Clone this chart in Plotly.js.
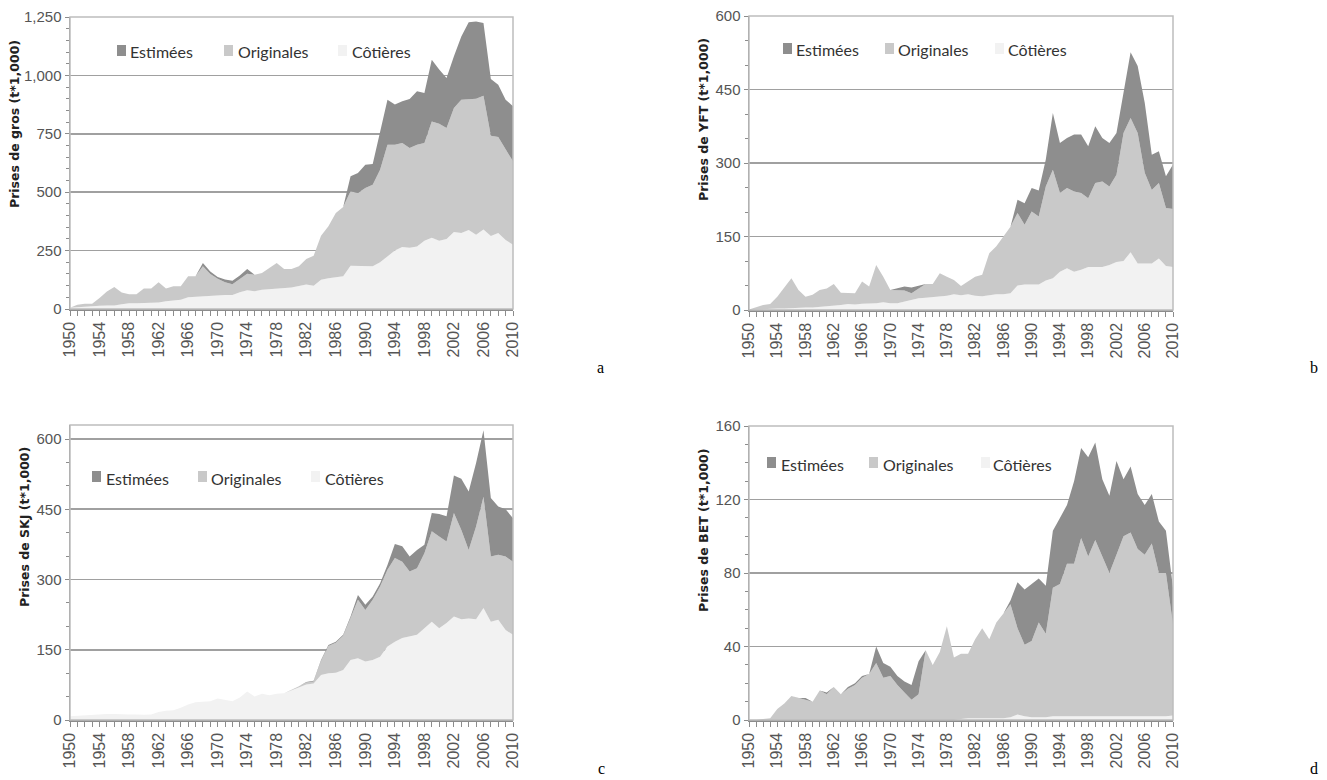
<!DOCTYPE html>
<html><head><meta charset="utf-8">
<script src="https://cdn.plot.ly/plotly-3.0.1.min.js"></script>
<style>html,body{margin:0;padding:0;background:#fff;}#chart{width:1327px;height:780px;}</style>
</head><body><div id="chart"></div>
<script>
const years = [1950,1951,1952,1953,1954,1955,1956,1957,1958,1959,
1960,1961,1962,1963,1964,1965,1966,1967,1968,1969,
1970,1971,1972,1973,1974,1975,1976,1977,1978,1979,
1980,1981,1982,1983,1984,1985,1986,1987,1988,1989,
1990,1991,1992,1993,1994,1995,1996,1997,1998,1999,
2000,2001,2002,2003,2004,2005,2006,2007,2008,2009,2010];

const seriesNames = ["Estimées","Originales","Côtières"];

// Panel a : gros (t*1,000)
const cotieresA = [5,8,10,12,14,15,15,20,25,25, 25,27,28,33,37,40,50,52,57,58, 60,60,60,72,80,76,82,84,88,90,
 92,98,105,100,125,132,135,140,185,185, 185,183,200,225,250,265,262,268,292,305, 292,300,330,325,338,318,340,312,325,295,275];
const originalesA = [0,10,13,11,33,60,79,51,38,38, 63,61,86,55,60,57,90,88,126,92, 69,54,46,57,71,71,72,92,109,81,
 79,85,109,128,189,222,276,297,319,312, 333,349,396,478,453,446,427,435,419,498, 501,475,530,571,561,582,573,430,411,387,357];
const estimeesA = [0,0,0,0,0,0,0,0,0,0, 0,0,0,0,0,0,0,0,14,11, 8,12,15,14,20,0,0,0,0,0,
 0,0,0,0,0,0,0,0,64,85, 100,89,157,193,172,178,210,229,214,264, 232,214,222,271,328,331,311,243,224,214,236];

// Panel b : YFT
const cotieresB = [0,1,2,3,3,3,4,4,5,5, 6,8,9,10,12,11,13,13,14,16, 14,14,17,20,24,25,26,28,29,32,
 30,32,29,28,30,32,32,34,50,52, 52,52,60,65,78,85,78,82,88,88, 88,92,98,100,118,95,95,95,105,90,88];
const originalesB = [1,4,8,9,24,43,61,37,22,26, 35,36,44,25,23,23,45,35,78,52, 27,27,23,14,20,28,27,47,39,29,
 19,26,39,44,86,98,118,136,148,122, 149,139,192,221,161,164,164,157,140,171, 174,160,178,261,274,266,185,150,154,118,118];
const estimeesB = [0,0,0,0,0,0,0,0,0,0, 0,0,0,0,0,0,0,0,0,0, 0,3,8,12,5,0,0,0,0,0,
 0,0,0,0,0,0,0,0,27,44, 48,53,55,116,102,102,116,119,106,116, 89,89,85,82,134,137,143,72,65,65,91];

// Panel c : SKJ
const cotieresC = [8,9,10,11,13,13,13,12,12,12, 11,12,17,20,21,26,33,38,39,40, 46,43,40,48,61,50,56,53,56,57,
 63,70,76,78,96,100,101,107,128,132, 125,128,135,157,167,175,178,182,196,210, 196,207,221,215,217,215,239,210,214,192,182];
const originalesC = [0,0,0,0,0,0,0,0,0,0, 0,0,0,0,0,0,0,0,0,0, 0,0,0,0,0,0,0,0,0,0,
 1,2,4,4,30,58,64,73,90,125, 110,129,150,164,179,163,139,142,160,193, 196,174,221,191,146,198,238,139,139,157,156];
const estimeesC = [0,0,0,0,0,0,0,0,0,0, 0,0,0,0,0,0,0,0,0,0, 0,0,0,0,0,0,0,0,0,0,
 0,0,1,2,2,2,2,2,3,10, 11,7,7,10,30,33,32,39,18,39, 48,54,80,109,125,136,142,125,103,101,93];

// Panel d : BET
const cotieresD = [0,0,0,0,0,0,0,0,0,0, 0,0,0,0,0,0,0,0,0,0, 0,0,0,0,0,0,0,0,0,0,
 0.5,1,1,1,1,1,1,1.5,3,2, 1.5,1.5,1.5,2,2,2,2,2,2,2, 2,2,2,2,2,2,2,2,2,2,2.5];
const originalesD = [0,0,0.5,1,6,9,13,12,11,10, 16,14,18,14,17,19,23,25,31,23, 24,19,15,11,14,38,30,37,51,34,
 35.5,35,43,49,43,52,57,61.5,47,39, 41.5,51.5,45.5,70,72,83,83,97,87,96, 87,78,88,98,100,91,88,94,78,78,49.5];
const estimeesD = [0,0,0,0,0,0,0,0,1,0, 0,1,0,0,1,1,1,0,9,8, 5,5,6,8,18,0,0,0,0,0,
 0,0,0,0,0,0,0,2,25,30, 31,24,26,31,36,32,45,49,54,53, 42,42,51,31,36,30,27,27,28,23,20];

const yTitles = ["Prises de gros (t*1,000)","Prises de YFT (t*1,000)","Prises de SKJ (t*1,000)","Prises de BET (t*1,000)"];
const panelLetters = ["a","b","c","d"];
const yRanges = [[0,1250],[0,600],[0,630],[0,160]];
const yDticks = [250,150,150,40];
const yMinor = [50,50,50,10];

const colors = {"Estimées":"#8e8e8e","Originales":"#c9c9c9","Côtières":"#f2f2f2"};

const W = 1327, H = 780;
const px = x => x / W;
const py = y => 1 - y / H;

// plot rectangles in pixels [left, right, top, bottom]
const boxes = [[70,513,17,309],[749,1173,16,310],[70,513,425,720],[749,1173,426,720]];

const panels = [
  [cotieresA, originalesA, estimeesA],
  [cotieresB, originalesB, estimeesB],
  [cotieresC, originalesC, estimeesC],
  [cotieresD, originalesD, estimeesD]
];

const traces = [];
const layout = {
  width: W, height: H, autosize: false,
  margin: {l:0, r:0, t:0, b:0},
  paper_bgcolor: "#ffffff", plot_bgcolor: "#ffffff",
  showlegend: false, hovermode: false,
  separators: ".,",
  annotations: [], shapes: []
};

const tickFont = {family: "Liberation Sans Narrow, Arial Narrow, sans-serif", size: 15, color: "#555555"};
const axisCol = "#8c8c8c";

panels.forEach((p, i) => {
  const n = i === 0 ? "" : String(i + 1);
  const xa = "x" + n, ya = "y" + n;
  const [c, o, e] = p;
  [["Côtières", c], ["Originales", o], ["Estimées", e]].forEach(([name, vals]) => {
    traces.push({
      type: "scatter", mode: "lines", x: years, y: vals, name: name,
      stackgroup: "s" + i, line: {width: 0, color: colors[name]},
      fillcolor: colors[name], xaxis: xa, yaxis: ya, hoverinfo: "skip"
    });
  });
  const b = boxes[i];
  layout["xaxis" + n] = {
    domain: [px(b[0]), px(b[1])], anchor: ya, range: [1950, 2010],
    tickmode: "linear", tick0: 1950, dtick: 4, tickangle: -90,
    ticks: "outside", ticklen: 5, tickwidth: 1, tickcolor: axisCol,
    showline: true, linecolor: axisCol, linewidth: 1.5,
    showgrid: false, zeroline: false, tickfont: Object.assign({}, tickFont, {size: 16}),
    minor: {dtick: 1, tick0: 1950, ticks: "outside", ticklen: 5, tickcolor: axisCol, showgrid: false},
    fixedrange: true
  };
  layout["yaxis" + n] = {
    domain: [py(b[3]), py(b[2])], anchor: xa, range: yRanges[i],
    tickmode: "linear", tick0: 0, dtick: yDticks[i],
    ticks: "outside", ticklen: 4, tickwidth: 1, tickcolor: axisCol,
    showline: true, linecolor: axisCol, linewidth: 1.5,
    showgrid: true, gridcolor: "#a0a0a0", gridwidth: 1.6, zeroline: false,
    separatethousands: true, tickfont: tickFont,
    minor: {dtick: yMinor[i], tick0: 0, ticks: "outside", ticklen: 3, tickcolor: axisCol, showgrid: false},
    fixedrange: true
  };
  // frame
  layout.shapes.push({type: "rect", xref: xa + " domain", yref: ya + " domain", x0: 0, x1: 1, y0: 0, y1: 1,
    line: {color: "#bdbdbd", width: 1.5}, layer: "above"});
});

// y-axis titles
const titlePos = [[15,124],[703,120],[24,527],[703,530]];
titlePos.forEach((t, i) => {
  layout.annotations.push({
    text: "<b>" + yTitles[i] + "</b>", xref: "paper", yref: "paper",
    x: px(t[0]), y: py(t[1]), xanchor: "center", yanchor: "middle",
    textangle: -90, showarrow: false,
    font: {family: "DejaVu Sans, sans-serif", size: 12.5, color: "#222222"}
  });
});

// panel letters
const letterPos = [[600,367],[1314,367],[601,768],[1314,768]];
letterPos.forEach((t, i) => {
  layout.annotations.push({
    text: panelLetters[i], xref: "paper", yref: "paper", x: px(t[0]), y: py(t[1]),
    xanchor: "center", yanchor: "middle", showarrow: false, borderpad: 0,
    font: {family: "Liberation Serif, Times New Roman, serif", size: 16, color: "#000000"}
  });
});

// legends (square + label) per panel : [squareX, textX] for each item, and centre y
const legendPos = [
  {y: 52, items: [[117,128],[224,236],[338,350]]},
  {y: 50, items: [[783,794],[885,896],[995,1006]]},
  {y: 478, items: [[92,104],[198,209],[311,323]]},
  {y: 464, items: [[767,779],[869,881],[981,991]]}
];
legendPos.forEach(lp => {
  lp.items.forEach((it, k) => {
    const name = seriesNames[k];
    layout.shapes.push({type: "rect", xref: "paper", yref: "paper",
      x0: px(it[0]), x1: px(it[0] + 9), y0: py(lp.y + 4), y1: py(lp.y - 7),
      fillcolor: colors[name], line: {width: 0}, layer: "above"});
    layout.annotations.push({
      text: name, xref: "paper", yref: "paper", x: px(it[1]), y: py(lp.y),
      xanchor: "left", yanchor: "middle", showarrow: false,
      font: {family: "Lato, Carlito, sans-serif", size: 16, color: "#333333"}
    });
  });
});

Plotly.newPlot("chart", traces, layout, {staticPlot: true, displayModeBar: false});
</script>
</body></html>
